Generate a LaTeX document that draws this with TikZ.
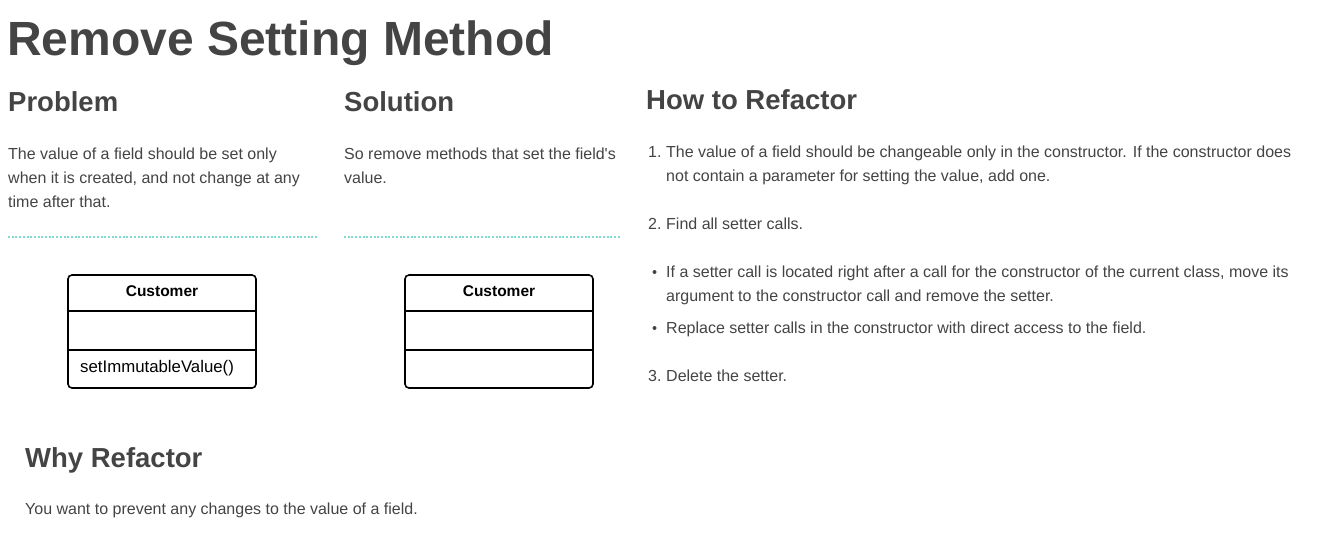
\documentclass[tikz,border=0pt]{standalone}
\usepackage{fontspec}
\setmainfont{Liberation Sans}[Ligatures=TeXOff]
\definecolor{txt}{HTML}{444444}
\definecolor{dotc}{HTML}{80DCCB}
\tikzset{
  title/.style={anchor=base west, inner sep=0pt, text=txt, font=\fontsize{48}{56}\selectfont\bfseries},
  head/.style={anchor=base west, inner sep=0pt, text=txt, font=\fontsize{27.5}{32}\selectfont\bfseries},
  body/.style={anchor=base west, inner sep=0pt, text=txt, font=\fontsize{16}{24}\selectfont},
  sep/.style={draw=dotc, line width=2pt, dash pattern=on 2pt off 1.7pt},
  umlbox/.style={draw=black, line width=1.6pt, rounded corners=4pt},
  umlline/.style={draw=black, line width=1.6pt},
  umlname/.style={anchor=base, inner sep=0pt, text=black, font=\fontsize{15.5}{18}\selectfont\bfseries},
  umlop/.style={anchor=base west, inner sep=0pt, text=black, font=\fontsize{16.8}{18}\selectfont},
  bullet/.style={circle, fill=txt, inner sep=0pt, minimum size=4pt},
}
\begin{document}
\begin{tikzpicture}[x=1pt,y=-1pt]
\fill[white] (0,0) rectangle (1324,550);
\useasboundingbox (0,0) rectangle (1324,550);

\node[title] (t) at (7,55) {Remove Setting Method};

% Problem
\node[head] (hp) at (8,111) {Problem};
\node[body] (p1) at (8,159) {The value of a field should be set only};
\node[body] (p2) at (8,183) {when it is created, and not change at any};
\node[body] (p3) at (8,207) {time after that.};
\coordinate (ps1) at (8,237);
\coordinate (ps2) at (318,237);
\draw[sep] (ps1) -- (ps2);

% Solution
\node[head] (hs) at (344,111) {Solution};
\node[body] (s1) at (344,159) {So remove methods that set the field's};
\node[body] (s2) at (344,183) {value.};
\coordinate (ss1) at (344,237);
\coordinate (ss2) at (620,237);
\draw[sep] (ss1) -- (ss2);

% UML left
\node[umlbox, minimum width=188pt, minimum height=113pt, inner sep=0pt] (ua) at (162,331.5) {};
\coordinate (ua1l) at (68,311); \coordinate (ua1r) at (256,311);
\coordinate (ua2l) at (68,350); \coordinate (ua2r) at (256,350);
\draw[umlline] (ua1l) -- (ua1r);
\draw[umlline] (ua2l) -- (ua2r);
\node[umlname] (uan) at (162,296) {Customer};
\node[umlop] (uao) at (80,372) {setImmutableValue()};

% UML right
\node[umlbox, minimum width=188pt, minimum height=113pt, inner sep=0pt] (ub) at (499,331.5) {};
\coordinate (ub1l) at (405,311); \coordinate (ub1r) at (593,311);
\coordinate (ub2l) at (405,350); \coordinate (ub2r) at (593,350);
\draw[umlline] (ub1l) -- (ub1r);
\draw[umlline] (ub2l) -- (ub2r);
\node[umlname] (ubn) at (499,296) {Customer};

% How to Refactor
\node[head] (hh) at (646,109) {How to Refactor};
\node[body] (n1) at (648,157) {1.};
\node[body] (h1a) at (666,157) {The value of a field should be changeable only in the constructor. If the constructor does};
\node[body] (h1b) at (666,181) {not contain a parameter for setting the value, add one.};
\node[body] (n2) at (648,229) {2.};
\node[body] (h2) at (666,229) {Find all setter calls.};
\node[bullet] (b1) at (654.5,272) {};
\node[body] (h3a) at (666,277) {If a setter call is located right after a call for the constructor of the current class, move its};
\node[body] (h3b) at (666,301) {argument to the constructor call and remove the setter.};
\node[bullet] (b2) at (654.5,328) {};
\node[body] (h4) at (666,333) {Replace setter calls in the constructor with direct access to the field.};
\node[body] (n3) at (648,381) {3.};
\node[body] (h5) at (666,381) {Delete the setter.};

% Why Refactor
\node[head] (hw) at (25,467) {Why Refactor};
\node[body] (w1) at (25,514) {You want to prevent any changes to the value of a field.};
\end{tikzpicture}
\end{document}
